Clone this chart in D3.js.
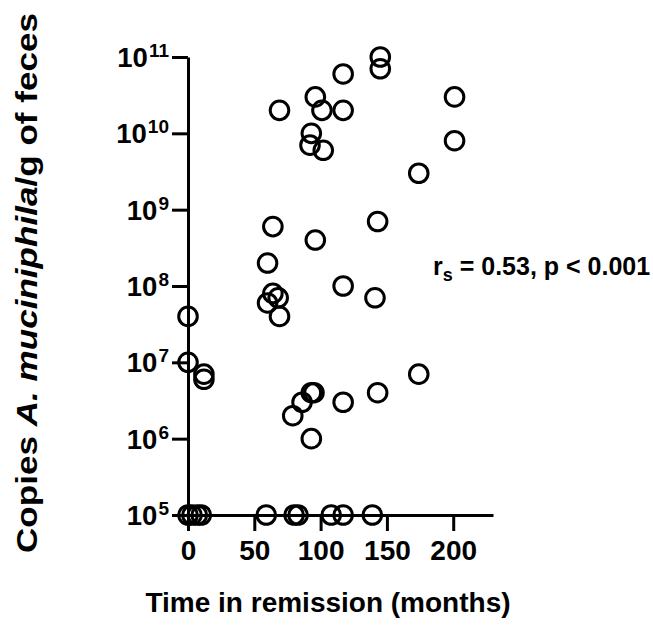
<!DOCTYPE html>
<html>
<head>
<meta charset="utf-8">
<script src="https://cdn.jsdelivr.net/npm/d3@7"></script>
<style>
  body { margin: 0; background: #fff; }
  svg { display: block; font-family: "Liberation Sans", Arial, Helvetica, sans-serif; font-weight: bold; }
</style>
</head>
<body>
<svg id="chart" width="653" height="628"></svg>
<script>
// time in remission (months) and copies of A. muciniphila per g of feces
const months = [
  0, 3, 7, 10, 59, 80, 83, 108, 117, 139,
  0, 0, 12, 12,
  60, 64, 68, 69, 60, 64,
  96, 117, 141, 143,
  79, 86, 93, 95, 93, 117, 143, 174,
  69, 96, 101, 93, 92, 102, 117, 117, 145, 145, 201, 201, 174
]
const copies = [
  1e5, 1e5, 1e5, 1e5, 1e5, 1e5, 1e5, 1e5, 1e5, 1e5,
  4e7, 1e7, 7e6, 6e6,
  6e7, 8e7, 7e7, 4e7, 2e8, 6e8,
  4e8, 1e8, 7e7, 7e8,
  2e6, 3e6, 4e6, 4e6, 1e6, 3e6, 4e6, 7e6,
  2e10, 3e10, 2e10, 1e10, 7e9, 6e9, 6e10, 2e10, 1e11, 7e10, 3e10, 8e9, 3e9
]
const xTicks = [0, 50, 100, 150, 200]
const yExponents = [5, 6, 7, 8, 9, 10, 11]

const svg = d3.select("#chart")

const x = d3.scaleLinear().domain([0, 230]).range([188, 493])
const y = d3.scaleLog().domain([1e5, 1e11]).range([515, 57])

// x axis
const xAxis = svg.append("g")
  .attr("transform", `translate(0,${y(1e5)})`)
  .call(d3.axisBottom(x).tickValues(xTicks).tickSize(16).tickSizeOuter(0))
xAxis.select(".domain").attr("stroke", "#000").attr("stroke-width", 3)
xAxis.selectAll(".tick line").attr("stroke", "#000").attr("stroke-width", 3)
xAxis.selectAll(".tick text")
  .attr("y", 45).attr("dy", 0)
  .attr("font-size", 28).attr("font-weight", "bold").attr("fill", "#000")
  .attr("font-family", "Liberation Sans, Arial, sans-serif")

// y axis
const yAxis = svg.append("g")
  .attr("transform", `translate(${x(0)},0)`)
  .call(d3.axisLeft(y).tickValues(yExponents.map(e => Math.pow(10, e))).tickSize(16).tickSizeOuter(0).tickFormat(""))
yAxis.select(".domain").attr("stroke", "#000").attr("stroke-width", 3)
yAxis.selectAll(".tick line").attr("stroke", "#000").attr("stroke-width", 3)

const yLab = svg.append("g")
  .selectAll("text")
  .data(yExponents)
  .enter()
  .append("text")
  .attr("x", 169)
  .attr("y", d => y(Math.pow(10, d)) + 10)
  .attr("text-anchor", "end")
  .attr("font-size", 27.5)
yLab.append("tspan").text("10")
yLab.append("tspan").attr("dx", 1).attr("dy", -10).attr("font-size", 19).text(d => d)

// points
svg.append("g")
  .selectAll("circle")
  .data(months.map((m, i) => ({ m: m, c: copies[i] })))
  .enter()
  .append("circle")
  .attr("cx", d => x(d.m))
  .attr("cy", d => y(d.c))
  .attr("r", 9.3)
  .attr("fill", "none")
  .attr("stroke", "#000")
  .attr("stroke-width", 3)

// annotation
const ann = svg.append("text")
  .attr("x", 433)
  .attr("y", 275)
  .attr("font-size", 25)
ann.append("tspan").text("r")
ann.append("tspan").attr("dy", 6).attr("font-size", 18).text("s")
ann.append("tspan").attr("dy", -6).text(" = 0.53, p < 0.001")

// axis titles
svg.append("text")
  .attr("x", 328)
  .attr("y", 612)
  .attr("text-anchor", "middle")
  .attr("font-size", 28)
  .text("Time in remission (months)")

const yt = svg.append("text")
  .attr("transform", "translate(37,283) rotate(-90)")
  .attr("text-anchor", "middle")
  .attr("font-size", 30)
  .attr("textLength", 540)
  .attr("lengthAdjust", "spacingAndGlyphs")
yt.append("tspan").text("Copies ")
yt.append("tspan").attr("font-style", "italic").text("A. muciniphila")
yt.append("tspan").text("/g of feces")
</script>
</body>
</html>
